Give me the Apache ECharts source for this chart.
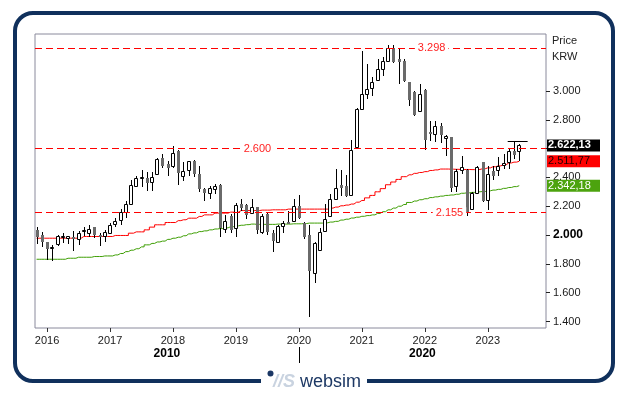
<!DOCTYPE html>
<html><head><meta charset="utf-8">
<script src="https://cdn.jsdelivr.net/npm/echarts@6/dist/echarts.min.js"></script>
<style>html,body{margin:0;padding:0;background:#fff}#c{width:629px;height:395px}</style>
</head><body><div id="c"></div>
<script>
// Monthly candles, KRW
const months = [
 '2015-11','2015-12',
 '2016-01','2016-02','2016-03','2016-04','2016-05','2016-06','2016-07','2016-08','2016-09','2016-10','2016-11','2016-12',
 '2017-01','2017-02','2017-03','2017-04','2017-05','2017-06','2017-07','2017-08','2017-09','2017-10','2017-11','2017-12',
 '2018-01','2018-02','2018-03','2018-04','2018-05','2018-06','2018-07','2018-08','2018-09','2018-10','2018-11','2018-12',
 '2019-01','2019-02','2019-03','2019-04','2019-05','2019-06','2019-07','2019-08','2019-09','2019-10','2019-11','2019-12',
 '2020-01','2020-02','2020-03','2020-04','2020-05','2020-06','2020-07','2020-08','2020-09','2020-10','2020-11','2020-12',
 '2021-01','2021-02','2021-03','2021-04','2021-05','2021-06','2021-07','2021-08','2021-09','2021-10','2021-11','2021-12',
 '2022-01','2022-02','2022-03','2022-04','2022-05','2022-06','2022-07','2022-08','2022-09','2022-10','2022-11','2022-12',
 '2023-01','2023-02','2023-03','2023-04','2023-05','2023-06','2023-07'
];
const open = [
 2036,1999,1953,1914,1939,1990,1978,1983,1976,2028,2017,2055,2001,1990,2017,2076,2101,2163,2215,2342,
 2396,2398,2365,2423,2535,2493,2476,2585,2407,2453,2514,2423,2321,2293,2319,2349,2043,2129,2048,2217,
 2210,2152,2194,2024,2145,2013,1955,2064,2090,2094,2203,2087,2001,1735,1897,2031,2133,2250,2344,2337,
 2275,2611,2875,2980,3018,3074,3153,3206,3298,3225,3206,3060,2991,2859,3005,2713,2703,2756,2671,2678,
 2337,2448,2448,2180,2295,2504,2245,2446,2453,2486,2504,2580,2580
];
const close = [
 1989,1955,1906,1918,1990,1994,1994,1974,2013,2036,2045,1999,1990,2024,2069,2094,2159,2215,2349,2396,
 2404,2361,2400,2530,2476,2465,2569,2430,2444,2514,2423,2321,2293,2326,2342,2052,2099,2036,2210,2191,
 2136,2198,2036,2133,2024,1960,2064,2083,2085,2205,2117,1985,1753,1944,2024,2110,2250,2326,2326,2268,
 2592,2875,2980,3014,3065,3153,3206,3298,3199,3199,3067,2940,2836,2982,2662,2701,2759,2697,2689,2326,
 2441,2472,2152,2295,2472,2233,2425,2411,2481,2500,2580,2558,2622.13
];
const low = [
 1939,1916,1828,1818,1925,1944,1939,1892,1930,1990,1985,1978,1925,1955,2013,2059,2071,2117,2210,2333,
 2333,2309,2309,2420,2465,2407,2465,2350,2372,2407,2400,2302,2238,2247,2284,1983,2013,2013,1983,2168,
 2113,2145,2008,2008,2001,1885,1953,2013,2080,2090,2108,1976,1433,1666,1892,2027,2129,2240,2268,2265,
 2268,2604,2870,2945,2963,3067,3102,3199,3195,3049,3060,2898,2824,2855,2592,2650,2643,2639,2550,2302,
 2302,2425,2133,2175,2290,2230,2175,2379,2407,2458,2458,2528,2511
];
const high = [
 2055,2024,1955,1930,2001,2017,1996,2030,2031,2055,2071,2058,2013,2036,2087,2117,2180,2233,2379,2407,
 2453,2437,2437,2535,2564,2511,2615,2590,2504,2517,2523,2480,2325,2337,2354,2356,2136,2145,2222,2250,
 2217,2252,2196,2145,2163,2036,2071,2099,2170,2250,2279,2090,2071,1955,2048,2217,2286,2458,2453,2418,
 2662,2882,3276,3190,3098,3223,3237,3322,3322,3298,3223,3062,2998,3045,3010,2794,2789,2779,2697,2680,
 2458,2551,2455,2302,2476,2508,2481,2481,2542,2564,2597,2650,2630
];
const maRed = [
 1978,1978,1978,1978,1978,1978,1978,1978,1978,1990,1990,1990,1990,1990,1990,1997,1997,1997,2013,2022,
 2022,2036,2055,2071,2071,2087,2087,2100,2106,2117,2117,2129,2140,2140,2152,2152,2152,2159,2159,2170,
 2170,2170,2170,2173,2173,2175,2175,2175,2180,2180,2180,2180,2180,2180,2180,2180,2187,2194,2203,2208,
 2215,2228,2240,2258,2275,2300,2322,2349,2368,2386,2405,2418,2428,2434,2440,2448,2452,2458,2458,2457,
 2456,2455,2455,2454,2455,2460,2466,2474,2480,2488,2500,2506,2511.77
];
const maGreen = [
 1832,1832,1832,1832,1832,1832,1839,1839,1846,1846,1846,1851,1851,1855,1855,1862,1872,1885,1895,1905,
 1918,1932,1942,1952,1958,1970,1978,1985,1995,2008,2015,2024,2029,2036,2042,2045,2050,2058,2064,2068,
 2072,2076,2074,2074,2074,2074,2076,2076,2076,2078,2078,2080,2083,2083,2083,2085,2090,2095,2104,2110,
 2118,2124,2130,2135,2140,2150,2162,2175,2187,2200,2212,2226,2236,2245,2252,2260,2265,2270,2275,2278,
 2283,2290,2293,2296,2300,2302,2307,2312,2317,2324,2330,2336,2342.18
];
const levels = [3298, 2600, 2155];
const yTicks = [1400, 1600, 1800, 2000, 2200, 2400, 2600, 2800, 3000];
const decadeLabels = ['2010', '2020'];

function fmt(v, d) {
  const s = v.toFixed(d);
  let [i, f] = s.split('.');
  i = i.replace(/\B(?=(\d{3})+(?!\d))/g, '.');
  return f ? i + ',' + f : i;
}

const n = months.length;
const janIdx = months.map((m, i) => m.endsWith('-01') ? i : -1).filter(i => i >= 0);
const idx2020 = months.indexOf('2020-01');
const xMin = -0.3, xMax = 97.1;
const decadePos = [(xMin + idx2020) / 2, (idx2020 + xMax) / 2];
const lastIdx = n - 1;
const hiIdx = n - 2;

const FONT = 'Liberation Sans, Arial, sans-serif';
const candleData = months.map((m, i) => [i, open[i], close[i], low[i], high[i]]);

const chart = echarts.init(document.getElementById('c'), null, {renderer: 'canvas'});
const boxLabel = (bg, fg, bold) => ({
  show: true, position: 'end', distance: 1,
  backgroundColor: bg, color: fg, fontFamily: FONT, fontSize: 11,
  fontWeight: bold ? 'bold' : 'normal', lineHeight: 12, padding: [0, 1], width: 51
});

chart.setOption({
  animation: false,
  backgroundColor: '#fff',
  textStyle: {fontFamily: FONT},
  grid: {left: 35, right: 83, top: 34, bottom: 67, show: true, borderColor: '#8a8a9c', borderWidth: 1, backgroundColor: '#fff', containLabel: false, outerBoundsMode: 'none'},
  xAxis: [{
    type: 'value', min: xMin, max: xMax, position: 'bottom',
    axisLine: {show: false, onZero: false}, splitLine: {show: false},
    axisTick: {show: true, length: 4, customValues: janIdx, lineStyle: {color: '#333', width: 1}},
    axisLabel: {show: true, customValues: janIdx, margin: 7, color: '#1a1a1a', fontSize: 11, fontFamily: FONT,
      formatter: v => { const m = months[Math.round(v)]; return m ? m.slice(0, 4) : ''; }}
  }, {
    type: 'value', min: xMin, max: xMax, position: 'bottom', offset: 19,
    axisLine: {show: false, onZero: false}, splitLine: {show: false},
    axisTick: {show: true, length: 16, customValues: [idx2020], lineStyle: {color: '#000', width: 1}},
    axisLabel: {show: true, customValues: decadePos, margin: 1, color: '#000', fontSize: 12, fontWeight: 'bold', fontFamily: FONT,
      formatter: v => v < idx2020 ? decadeLabels[0] : decadeLabels[1]}
  }],
  yAxis: {
    type: 'value', position: 'right', min: 1355, max: 3395, scale: true,
    axisLine: {show: false, onZero: false}, splitLine: {show: false},
    axisTick: {show: true, length: 4, customValues: yTicks, lineStyle: {color: '#222'}},
    axisLabel: {show: true, customValues: yTicks, margin: 7, color: '#1a1a1a', fontSize: 11, fontFamily: FONT,
      formatter: v => v === 2600 ? '' : (v === 2000 ? '{b|' + fmt(v, 0) + '}' : fmt(v, 0)),
      rich: {b: {fontWeight: 'bold', fontSize: 12, color: '#000', fontFamily: FONT}}}
  },
  series: [{
    type: 'line', name: 'ma1', data: maRed.map((v, i) => [i, v]), step: 'middle', symbol: 'none',
    lineStyle: {color: '#ff0000', width: 1}, z: 2, silent: true,
    markLine: {
      silent: true, symbol: ['none', 'none'], animation: false,
      data: [
        ...levels.map(v => ({yAxis: v, lineStyle: {color: '#ff0000', type: [7, 4], width: 1}, label: {show: false}})),
        {yAxis: close[lastIdx], lineStyle: {color: 'rgba(0,0,0,0)', width: 1}, label: Object.assign(boxLabel('#000', '#fff', true), {formatter: fmt(close[lastIdx], 2)})},
        {yAxis: maRed[lastIdx], lineStyle: {color: 'rgba(0,0,0,0)', width: 1}, label: Object.assign(boxLabel('#ff0000', '#220000', false), {formatter: fmt(maRed[lastIdx], 2)})},
        {yAxis: maGreen[lastIdx], lineStyle: {color: 'rgba(0,0,0,0)', width: 1}, label: Object.assign(boxLabel('#4ca30e', '#fff', false), {formatter: fmt(maGreen[lastIdx], 2)})},
        [{coord: [hiIdx - 1.2, high[hiIdx]], lineStyle: {color: '#000', type: 'solid', width: 1}, label: {show: false}}, {coord: [hiIdx + 2.6, high[hiIdx]]}]
      ]
    },
    markPoint: {
      silent: true, animation: false, symbol: 'rect', symbolSize: [1, 1], itemStyle: {color: 'rgba(0,0,0,0)'},
      label: {show: true, position: 'inside', formatter: '{b}', color: '#ff2222', fontSize: 11, fontFamily: FONT, backgroundColor: '#fff', padding: [0, 3]},
      data: levels.map((v, i) => ({name: fmt(v, 0), coord: [[75.3, 42.1, 78.7][i], v]}))
    }
  }, {
    type: 'line', name: 'ma2', data: maGreen.map((v, i) => [i, v]), step: 'middle', symbol: 'none',
    lineStyle: {color: '#3f9f05', width: 1}, z: 2, silent: true
  }, {
    type: 'custom', name: 'price', data: candleData, z: 4, clip: true, silent: true,
    encode: {x: 0, y: [1, 2, 3, 4]},
    renderItem: (params, api) => {
      const x = api.value(0), o = api.value(1), c = api.value(2), l = api.value(3), h = api.value(4);
      const pO = api.coord([x, o]), pC = api.coord([x, c]), pL = api.coord([x, l]), pH = api.coord([x, h]);
      const cx = Math.round(pO[0]) + 0.5;
      const top = Math.round(Math.min(pO[1], pC[1])), bot = Math.round(Math.max(pO[1], pC[1]));
      const kids = [{type: 'line', shape: {x1: cx, y1: Math.round(pH[1]), x2: cx, y2: Math.round(pL[1])}, style: {stroke: '#000', lineWidth: 1}}];
      if (c >= o) {
        kids.push({type: 'rect', shape: {x: cx - 2, y: top + 0.5, width: 3, height: Math.max(1, bot - top)}, style: {fill: '#fff', stroke: '#000', lineWidth: 1}});
      } else {
        kids.push({type: 'rect', shape: {x: cx - 1.5, y: top, width: 3, height: Math.max(2, bot - top)}, style: {fill: '#6a6a6a'}});
      }
      return {type: 'group', children: kids};
    }
  }],
  graphic: [
    {type: 'text', z: 50, style: {text: 'Price', x: 552, y: 41, verticalAlign: 'middle', fill: '#222', font: '11px ' + FONT}},
    {type: 'text', z: 50, style: {text: 'KRW', x: 552, y: 57, verticalAlign: 'middle', fill: '#222', font: '11px ' + FONT}},
    {type: 'rect', z: 100, shape: {x: 15, y: 13, width: 598, height: 368, r: 18}, style: {fill: 'none', stroke: '#10305c', lineWidth: 4}},
    {type: 'rect', z: 101, shape: {x: 261, y: 372, width: 106, height: 20}, style: {fill: '#fff'}},
    {type: 'circle', z: 102, shape: {cx: 270.5, cy: 373.5, r: 3}, style: {fill: '#1b3765'}},
    {type: 'text', z: 102, style: {text: '//S', x: 273, y: 382.5, verticalAlign: 'middle', fill: '#c9d3e0', font: 'italic bold 18px ' + FONT}},
    {type: 'text', z: 102, style: {text: 'websim', x: 300, y: 382.5, verticalAlign: 'middle', fill: '#1d3864', font: '18px ' + FONT}}
  ]
});
</script></body></html>
